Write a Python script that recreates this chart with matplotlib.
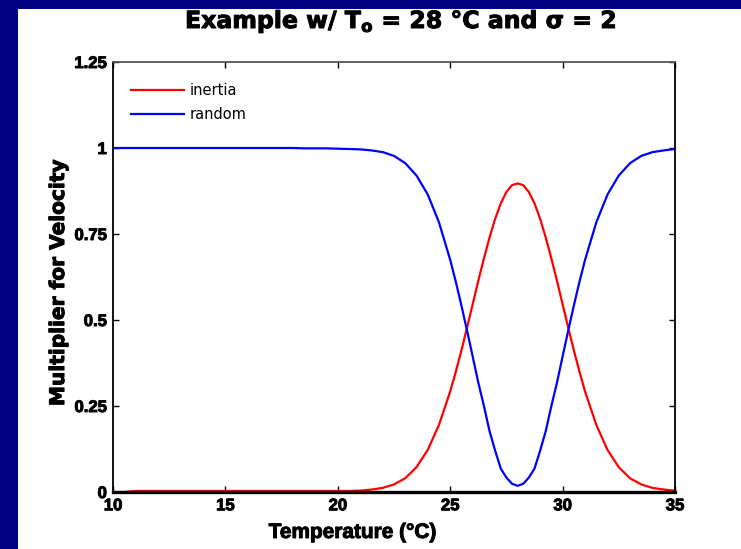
"""
Inertia vs random multiplier, T_o = 28 C, sigma = 2
"""

import matplotlib
matplotlib.use("Agg")
import matplotlib.pyplot as plt
import matplotlib.patheffects as pe
from matplotlib.patches import Rectangle


##########################################################################################
# Data
##########################################################################################
temperature = [10.0, 10.5, 11.0, 11.5, 12.0, 12.5, 13.0, 13.5, 14.0, 14.5,
               15.0, 15.5, 16.0, 16.5, 17.0, 17.5, 18.0, 18.5, 19.0, 19.5,
               20.0, 20.5, 21.0, 21.5, 22.0, 22.5, 23.0, 23.5, 24.0, 24.5,
               25.0, 25.25, 25.5, 25.75, 26.0, 26.25, 26.5, 26.75,
               27.0, 27.25, 27.5, 27.75, 28.0, 28.25, 28.5, 28.75,
               29.0, 29.25, 29.5, 29.75, 30.0, 30.25, 30.5, 30.75, 31.0,
               31.5, 32.0, 32.5, 33.0, 33.5, 34.0, 34.5, 35.0]

inertia = [0.000, 0.000, 0.003, 0.003, 0.003, 0.003, 0.003, 0.003, 0.003, 0.003,
           0.003, 0.003, 0.003, 0.003, 0.003, 0.003, 0.003, 0.003, 0.003, 0.003,
           0.003, 0.003, 0.004, 0.007, 0.012, 0.022, 0.040, 0.072, 0.122, 0.195,
           0.292, 0.350, 0.412, 0.478, 0.546, 0.614, 0.679, 0.740,
           0.794, 0.839, 0.872, 0.892, 0.897, 0.892, 0.872, 0.839,
           0.794, 0.740, 0.679, 0.614, 0.546, 0.478, 0.412, 0.350, 0.292,
           0.195, 0.122, 0.072, 0.040, 0.022, 0.012, 0.007, 0.004]

random_walk = [1.000, 1.000, 1.000, 1.000, 1.000, 1.000, 1.000, 1.000, 1.000, 1.000,
               1.000, 1.000, 1.000, 1.000, 1.000, 1.000, 1.000, 0.999, 0.999, 0.999,
               0.998, 0.997, 0.996, 0.993, 0.988, 0.977, 0.956, 0.920, 0.865, 0.784,
               0.675, 0.611, 0.542, 0.469, 0.394, 0.318, 0.250, 0.177,
               0.120, 0.068, 0.042, 0.024, 0.018, 0.024, 0.042, 0.068,
               0.120, 0.177, 0.250, 0.318, 0.394, 0.469, 0.542, 0.611, 0.675,
               0.784, 0.865, 0.920, 0.956, 0.977, 0.988, 0.993, 0.997]

x_ticks = [10, 15, 20, 25, 30, 35]
y_ticks = [0, 0.25, 0.5, 0.75, 1, 1.25]
y_tick_labels = ["0", "0.25", "0.5", "0.75", "1", "1.25"]

navy = "#000080"
font = "Liberation Sans"
thick = [pe.withStroke(linewidth=0.7, foreground="black")]

plt.rcParams["font.family"] = [font, "DejaVu Sans"]
plt.rcParams["mathtext.fontset"] = "custom"
plt.rcParams["mathtext.rm"] = "DejaVu Sans:bold"
plt.rcParams["mathtext.bf"] = "DejaVu Sans:bold"


##########################################################################################
# Figure
##########################################################################################
fig = plt.figure(figsize=(7.41, 5.49), dpi=100, facecolor="white")

# slide-style navy bands (top and left)
fig.patches.append(Rectangle((0, 1 - 9 / 549), 1, 9 / 549, transform=fig.transFigure,
                             facecolor=navy, edgecolor="none", zorder=0))
fig.patches.append(Rectangle((0, 0), 18 / 741, 1, transform=fig.transFigure,
                             facecolor=navy, edgecolor="none", zorder=0))

ax = fig.add_axes([113 / 741, 57 / 549, 562 / 741, 430 / 549])

ax.plot(temperature, inertia, color="#ff0000", lw=1.6, label="inertia")
ax.plot(temperature, random_walk, color="#0000ff", lw=1.6, label="random")

ax.set_xlim(10, 35)
ax.set_ylim(0, 1.25)
ax.set_xticks(x_ticks)
ax.set_yticks(y_ticks)
ax.set_yticklabels(y_tick_labels)

ax.tick_params(direction="in", length=4, width=1, top=True, right=True,
               labelsize=12, pad=4.5, colors="black")
for lab in ax.get_xticklabels() + ax.get_yticklabels():
    lab.set_fontweight("bold")
    lab.set_path_effects(thick)

ax.spines["left"].set_linewidth(1.3)
ax.spines["bottom"].set_linewidth(2.4)
ax.spines["right"].set_linewidth(1.3)
ax.spines["top"].set_linewidth(1.3)
ax.spines["top"].set_color("#555555")

ax.set_xlabel("Temperature (°C)", fontsize=15, fontweight="bold", path_effects=thick)
ax.xaxis.set_label_coords(0.427, -0.072)
ax.set_ylabel("Multiplier for Velocity", fontsize=14.5, fontweight="bold",
              family="DejaVu Sans", path_effects=thick)
ax.yaxis.set_label_coords(-0.080, 0.488)

fig.text(401 / 741, 1 - 28 / 549, r"Example w/ T$_\mathrm{o}$ = 28 °C and σ = 2",
         ha="center", va="baseline", fontsize=17, fontweight="bold",
         family="DejaVu Sans", path_effects=thick)

leg = ax.legend(loc="upper left", bbox_to_anchor=(0.032, 0.951), frameon=False,
                prop={"family": "DejaVu Sans", "size": 10.5},
                handlelength=3.63, handletextpad=0.41,
                labelspacing=0.62, borderaxespad=0, borderpad=0)

fig.savefig("out.png", dpi=100, facecolor="white")
